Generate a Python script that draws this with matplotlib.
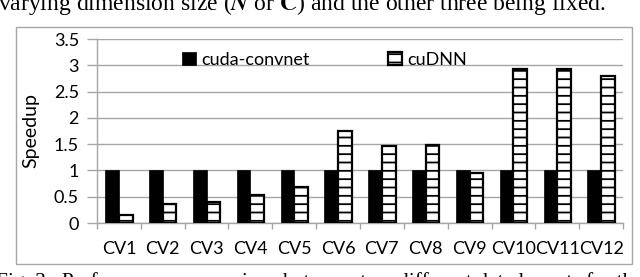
import matplotlib.pyplot as plt
from matplotlib.patches import Rectangle
import numpy as np

labels = ['CV1', 'CV2', 'CV3', 'CV4', 'CV5', 'CV6', 'CV7', 'CV8', 'CV9', 'CV10', 'CV11', 'CV12']
convnet = [1, 1, 1, 1, 1, 1, 1, 1, 1, 1, 1, 1]
cudnn = [0.15, 0.36, 0.40, 0.53, 0.68, 1.75, 1.47, 1.48, 0.96, 2.92, 2.92, 2.79]
yticks = [0, 0.5, 1, 1.5, 2, 2.5, 3, 3.5]
ytick_labels = ['0', '0.5', '1', '1.5', '2', '2.5', '3', '3.5']

plt.rcParams['font.family'] = ['Lato', 'DejaVu Sans']
plt.rcParams['hatch.linewidth'] = 1.3
plt.rcParams['mathtext.fontset'] = 'stix'

fig = plt.figure(figsize=(6.4, 2.77), dpi=100)
ax = fig.add_axes([97/640, 1 - 223/277, (623 - 97)/640, (223 - 39)/277])

x = np.arange(len(labels))
w = 0.31
ax.bar(x - w/2, convnet, w, color='black', edgecolor='black', linewidth=0.5,
       label='cuda-convnet', zorder=3)
ax.bar(x + w/2, cudnn, w, color='white', edgecolor='black', linewidth=1.6,
       hatch='--', label='cuDNN', zorder=3)

ax.set_xlim(-0.5, len(labels) - 0.5)
ax.set_ylim(0, 3.5)
ax.set_yticks(yticks)
ax.set_yticklabels(ytick_labels, fontsize=13)
ax.yaxis.grid(True, color='#a6a6a6', linewidth=1)
ax.set_axisbelow(True)

ax.set_xticks(x)
ax.set_xticklabels(labels, fontsize=13)
ax.set_xticks(np.arange(len(labels) + 1) - 0.5, minor=True)
ax.tick_params(axis='x', which='major', length=0, pad=13)
ax.tick_params(axis='x', which='minor', length=4, color='#a6a6a6', width=1)
ax.tick_params(axis='y', length=7, color='#a6a6a6', width=1, pad=6)

for side in ['top', 'right']:
    ax.spines[side].set_visible(False)
for side in ['left', 'bottom']:
    ax.spines[side].set_color('#a6a6a6')
    ax.spines[side].set_linewidth(1)

ax.set_ylabel('Speedup', fontsize=14, labelpad=10)

ax.legend(loc='upper left', bbox_to_anchor=(0.13, 1.02), ncol=2, frameon=False,
          fontsize=13, handlelength=0.8, handleheight=0.8, handletextpad=0.3,
          columnspacing=4.3)

# chart border
fig.patches.append(Rectangle((16/640, 1 - 264/277), (632 - 16)/640, (264 - 27)/277,
                             transform=fig.transFigure, fill=False,
                             edgecolor='#a6a6a6', linewidth=1))

# surrounding paper text (cut off as in the page crop)
fig.text(-0.003, 1 - 10/277,
         'varying dimension size ($\\boldsymbol{N}$ or $\\mathbf{C}$) and the other three being fixed.',
         fontsize=17, family='Liberation Serif', va='baseline')
fig.text(-0.006, 1 - 287/277,
         'Fig. 3.  Performance comparison between two different data layouts for the',
         fontsize=15.5, family='Liberation Serif', va='baseline')

fig.savefig('out.png', dpi=100)
